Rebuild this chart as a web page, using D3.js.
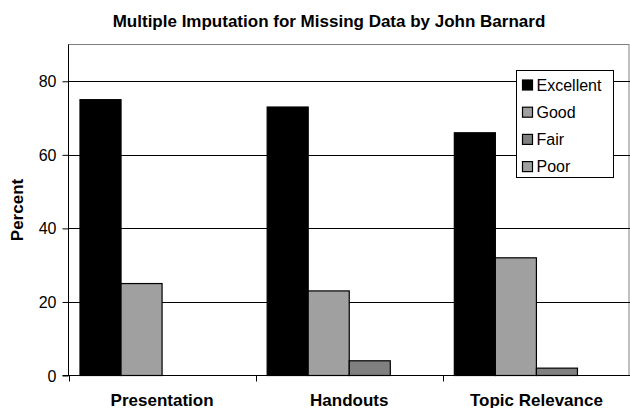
<!DOCTYPE html>
<html>
<head>
<meta charset="utf-8">
<script src="https://cdn.jsdelivr.net/npm/d3@7"></script>
<style>
  html, body { margin: 0; padding: 0; background: #fff; }
  svg { display: block; }
  text { font-family: "Liberation Sans", Arial, sans-serif; fill: #000; }
</style>
</head>
<body>
<svg id="chart" width="630" height="408"></svg>
<script>
// Survey ratings per aspect of the talk (percent of respondents)
const categories = ["Presentation", "Handouts", "Topic Relevance"];
const seriesNames = ["Excellent", "Good", "Fair", "Poor"];
const excellent = [75, 73, 66];
const good = [25, 23, 32];
const fair = [0, 4, 2];
const poor = [0, 0, 0];
const yTicks = [0, 20, 40, 60, 80];
const seriesColors = ["#000000", "#a0a0a0", "#808080", "#a0a0a0"];

const seriesValues = [excellent, good, fair, poor];

const svg = d3.select("#chart");
const plot = { left: 68.5, right: 630, top: 44.5, bottom: 375.5 };

const x0 = d3.scaleBand().domain(categories)
  .range([plot.left, plot.right]).paddingInner(0).paddingOuter(0);
const x1 = d3.scaleBand().domain(seriesNames)
  .range([0, x0.bandwidth()]).paddingInner(0).paddingOuter(0.28);
const y = d3.scaleLinear().domain([0, 90]).range([plot.bottom, plot.top]);
const color = d3.scaleOrdinal().domain(seriesNames).range(seriesColors);

// Title
svg.append("text")
  .attr("x", 329).attr("y", 27)
  .attr("text-anchor", "middle")
  .style("font-size", "17px").style("font-weight", "bold")
  .text("Multiple Imputation for Missing Data by John Barnard");

// Plot frame
svg.append("rect")
  .attr("x", plot.left).attr("y", plot.top)
  .attr("width", plot.right - plot.left - 1).attr("height", plot.bottom - plot.top)
  .attr("fill", "none").attr("stroke", "#808080").attr("stroke-width", 1);

// Horizontal gridlines
svg.append("g").selectAll("line")
  .data(yTicks.filter(t => t > 0))
  .join("line")
  .attr("x1", plot.left).attr("x2", plot.right)
  .attr("y1", d => Math.round(y(d)) + 0.5).attr("y2", d => Math.round(y(d)) + 0.5)
  .attr("stroke", "#000").attr("stroke-width", 1);

// Bars
const rows = categories.map((c, i) => ({
  category: c,
  values: seriesNames.map((s, j) => ({ series: s, value: seriesValues[j][i] }))
}));

svg.append("g").selectAll("g")
  .data(rows)
  .join("g")
  .attr("transform", d => `translate(${x0(d.category)},0)`)
  .selectAll("rect")
  .data(d => d.values.filter(v => v.value > 0))
  .join("rect")
  .attr("x", d => x1(d.series))
  .attr("y", d => y(d.value))
  .attr("width", x1.bandwidth())
  .attr("height", d => y(0) - y(d.value))
  .attr("fill", d => color(d.series))
  .attr("stroke", "#000").attr("stroke-width", 1.2);

// Y axis
const yAxis = svg.append("g")
  .attr("transform", `translate(${plot.left},0)`)
  .call(d3.axisLeft(y).tickValues(yTicks).tickSize(6).tickPadding(6).tickFormat(d3.format("d")));
yAxis.select(".domain").attr("stroke", "#000").attr("d", `M0,${plot.top}V${plot.bottom}`);
yAxis.selectAll(".tick line").attr("stroke", "#000");
yAxis.selectAll(".tick text")
  .style("font-size", "16px").style("font-family", "'Liberation Sans', Arial, sans-serif")
  .attr("fill", "#000").attr("dy", "0.35em");

// X axis: tick marks at category boundaries
const boundaries = categories.map(c => x0(c)).concat([plot.right]);
const xAxis = svg.append("g")
  .attr("transform", `translate(0,${plot.bottom})`);
xAxis.append("line")
  .attr("x1", plot.left - 6).attr("x2", plot.right)
  .attr("y1", 0).attr("y2", 0).attr("stroke", "#000");
xAxis.selectAll("line.tick")
  .data(boundaries)
  .join("line").attr("class", "tick")
  .attr("x1", d => Math.round(d) + 0.5).attr("x2", d => Math.round(d) + 0.5)
  .attr("y1", 0).attr("y2", 6).attr("stroke", "#000");
xAxis.selectAll("text")
  .data(categories)
  .join("text")
  .attr("x", d => x0(d) + x0.bandwidth() / 2)
  .attr("y", 30)
  .attr("text-anchor", "middle")
  .style("font-size", "17px").style("font-weight", "bold")
  .text(d => d);

// Y axis title
svg.append("text")
  .attr("transform", "translate(23,210) rotate(-90)")
  .attr("text-anchor", "middle")
  .style("font-size", "17px").style("font-weight", "bold")
  .text("Percent");

// Legend
const legend = svg.append("g").attr("transform", "translate(516.5,70.5)");
legend.append("rect")
  .attr("width", 97).attr("height", 107)
  .attr("fill", "#fff").attr("stroke", "#000").attr("stroke-width", 1);
const item = legend.selectAll("g.item")
  .data(seriesNames)
  .join("g").attr("class", "item")
  .attr("transform", (d, i) => `translate(0,${14.5 + i * 27.2})`);
item.append("rect")
  .attr("x", 6).attr("y", -5).attr("width", 10).attr("height", 10)
  .attr("fill", d => color(d)).attr("stroke", "#000").attr("stroke-width", 1.2);
item.append("text")
  .attr("x", 20).attr("y", 0).attr("dy", "0.36em")
  .style("font-size", "16px")
  .text(d => d);
</script>
</body>
</html>
